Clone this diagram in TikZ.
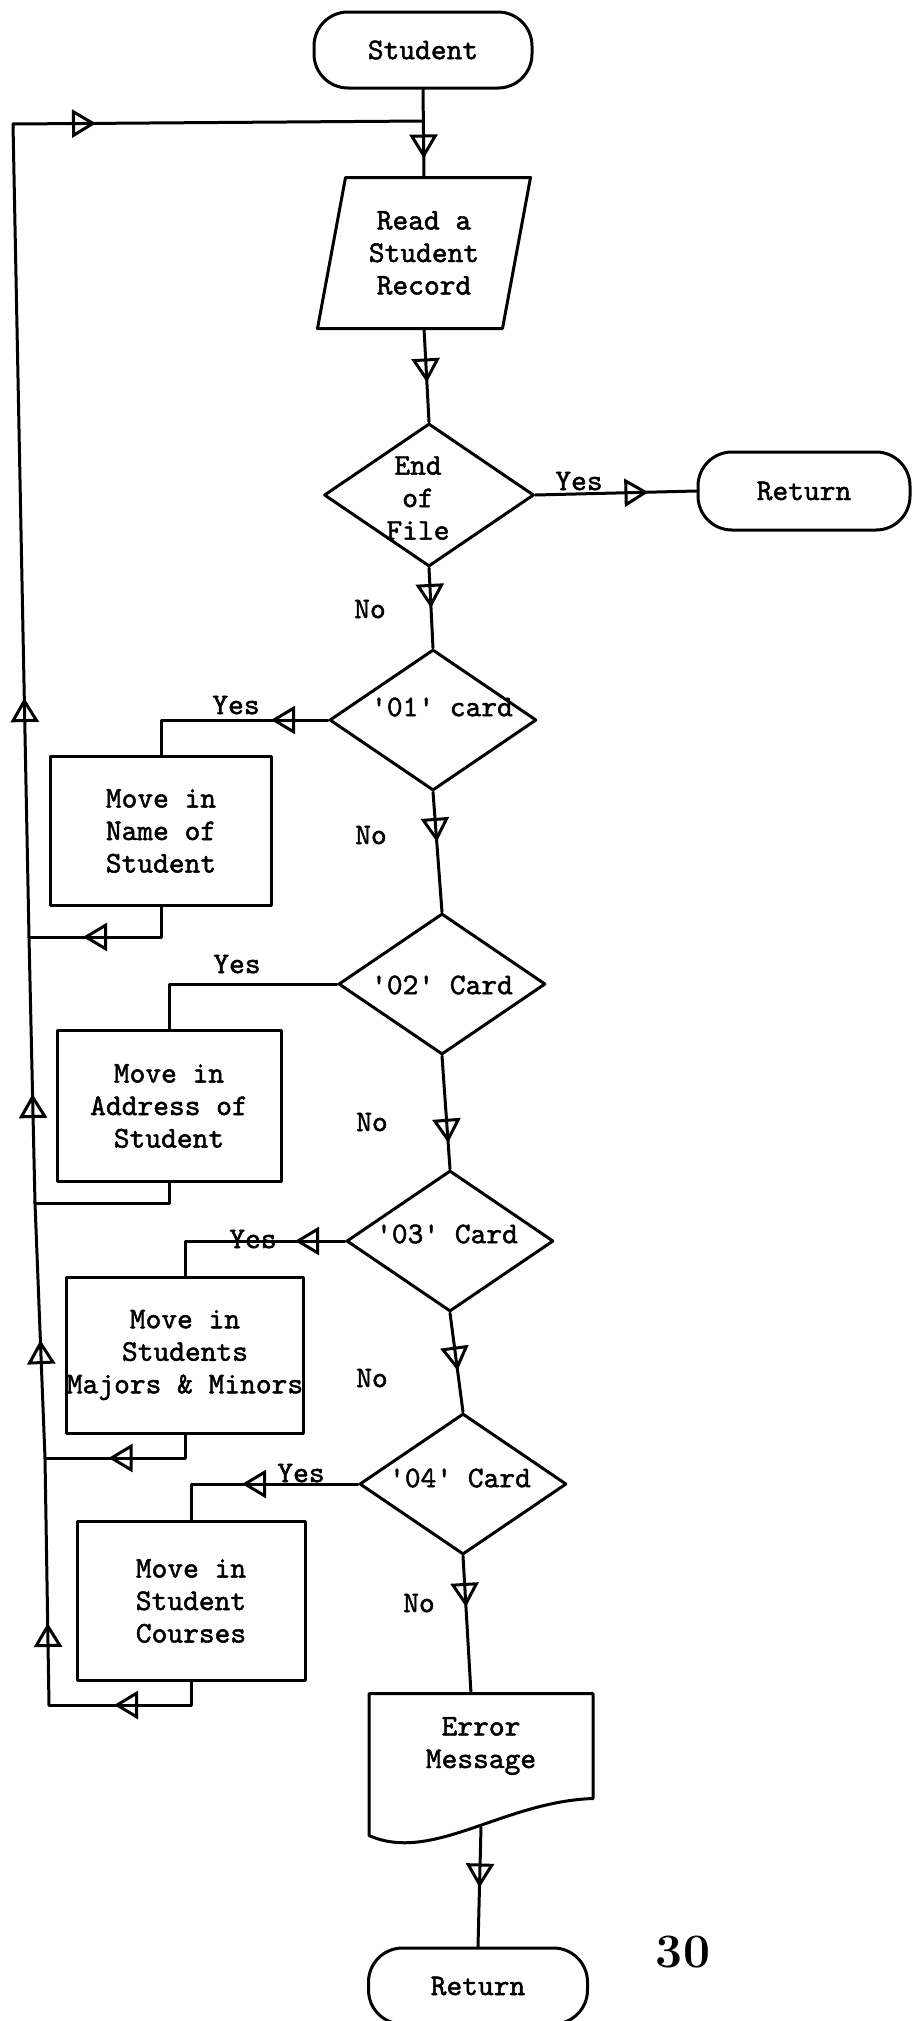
\documentclass[tikz,border=0pt]{standalone}
\usepackage{fontspec}
\usetikzlibrary{shapes.geometric, arrows.meta, decorations.markings}
% typewriter face, slightly heavier than the stock mono
\newfontfamily\typewriter{lmmono10-regular.otf}[FakeBold=1.6]
\begin{document}
\begin{tikzpicture}[x=1pt, y=-1pt, line width=3pt, line cap=round, line join=round,
  every node/.append style={font=\fontsize{30}{32.5}\selectfont\typewriter, align=center, inner sep=1pt},
  arrowat/.style={postaction={decorate}, decoration={markings,
      mark=at position #1 with {\arrow{Triangle[open, length=24pt, width=28pt]}}}},
  terminal/.style={draw, rectangle, rounded corners=34pt, minimum height=76pt, inner sep=0pt},
  decision/.style={draw, diamond, minimum width=207pt, minimum height=141pt, inner sep=0pt},
  process/.style={draw, rectangle, inner sep=0pt},
  lbl/.style={inner sep=1pt}]

% page
\path[use as bounding box, fill=white] (0,0) rectangle (912,2021);

% ---- nodes of the main column ----
\node[terminal, minimum width=218pt] (student) at (423,50) {Student};

\node[minimum width=182pt, minimum height=148pt, inner sep=0pt] (read) at (424,253) {Read a\\Student\\Record};
\draw ([xshift=14pt]read.north west) -- ([xshift=14pt]read.north east)
   -- ([xshift=-14pt]read.south east) -- ([xshift=-14pt]read.south west) -- cycle;

\node[decision, minimum width=210pt, minimum height=143pt] (eof) at (429,495) {};
\node[lbl] (eof-t) at (418,498) {End\\of\\File};

\node[terminal, minimum width=212pt, minimum height=78pt] (ret1) at (804,491) {Return};

\node[decision] (d01) at (433,720) {};
\node[lbl] (d01-t) at (442,707) {\textquotesingle01\textquotesingle{} card};

\node[decision] (d02) at (442,984) {};
\node[lbl] (d02-t) at (442,985) {\textquotesingle02\textquotesingle{} Card};

\node[decision] (d03) at (450,1241) {};
\node[lbl] (d03-t) at (447,1234) {\textquotesingle03\textquotesingle{} Card};

\node[decision] (d04) at (463,1484) {};
\node[lbl] (d04-t) at (460,1478) {\textquotesingle04\textquotesingle{} Card};

% ---- processing boxes on the left ----
\node[process, minimum width=221pt, minimum height=149pt] (box1) at (161,831) {Move in\\Name of\\Student};
\node[process, minimum width=224pt, minimum height=151pt] (box2) at (169,1106) {Move in\\Address of\\Student};
\node[process, minimum width=225pt, minimum height=156pt] (box3) at (185,1355) {Move in\\Students\\Majors \& Minors};
\node[process, minimum width=228pt, minimum height=159pt] (box4) at (191,1601) {Move in\\Student\\Courses};

% ---- error document and final terminal ----
\node[minimum width=221pt, minimum height=102pt, inner sep=0pt] (err) at (481,1746) {Error\\Message};
\draw (err.north west) -- (err.north east) -- (err.south east)
   .. controls ([xshift=-90pt,yshift=-3pt]err.south east) and ([xshift=63pt,yshift=-65pt]err.south west)
   .. ([yshift=-37pt]err.south west) -- cycle;

\node[terminal, minimum width=219pt] (ret2) at (478,1986) {Return};

% ---- branch labels ----
\node[lbl] (yes0) at (579,481) {Yes};
\node[lbl] (no0) at (370,609) {No};
\node[lbl] (yes1) at (236,705) {Yes};
\node[lbl] (no1) at (371,835) {No};
\node[lbl] (yes2) at (237,964) {Yes};
\node[lbl] (no2) at (372,1122) {No};
\node[lbl] (yes3) at (253,1239) {Yes};
\node[lbl] (no3) at (372,1378) {No};
\node[lbl] (yes4) at (301,1473) {Yes};
\node[lbl] (no4) at (419,1603) {No};

\node[font=\fontsize{48}{50}\selectfont\rmfamily\bfseries] (page) at (683,1952) {30};

% ---- return loop on the left ----
\coordinate (jmain) at (423,121);
\coordinate (ltop) at (13,124);
\coordinate (j1) at (29,937);
\coordinate (j2) at (35,1203);
\coordinate (j3) at (45,1458);
\coordinate (j4) at (49,1705);

\draw[arrowat=82pt] (j4) -- (j3);
\draw[arrowat=118pt] (j3) -- (j2);
\draw[arrowat=109pt] (j2) -- (j1);
\draw[arrowat=239pt] (j1) -- (ltop);
\draw[arrowat=83pt] (ltop) -- (jmain);

% ---- main flow ----
\draw[arrowat=69pt] (student.south) -- (read.north);
\draw[arrowat=54pt] (read.south) -- (eof.north);
\draw[arrowat=113pt] (eof.east) -- (ret1.west);
\draw[arrowat=40pt] (eof.south) -- (d01.north);
\draw[arrowat=50pt] (d01.south) -- (d02.north);
\draw[arrowat=87pt] (d02.south) -- (d03.north);
\draw[arrowat=58pt] (d03.south) -- (d04.north);
\draw[arrowat=51pt] (d04.south) -- ([xshift=-10pt]err.north);
\draw[arrowat=60pt] ([yshift=-29pt]err.south) -- (ret2.north);

% ---- yes branches and their returns ----
\draw[arrowat=57pt] (d01.west) -| (box1.north);
\draw[arrowat=108pt] (box1.south) |- (j1);
\draw (d02.west) -| (box2.north);
\draw (box2.south) |- (j2);
\draw[arrowat=50pt] (d03.west) -| (box3.north);
\draw[arrowat=100pt] (box3.south) |- (j3);
\draw[arrowat=116pt] (d04.west) -| (box4.north);
\draw[arrowat=100pt] (box4.south) |- (j4);

\end{tikzpicture}
\end{document}
